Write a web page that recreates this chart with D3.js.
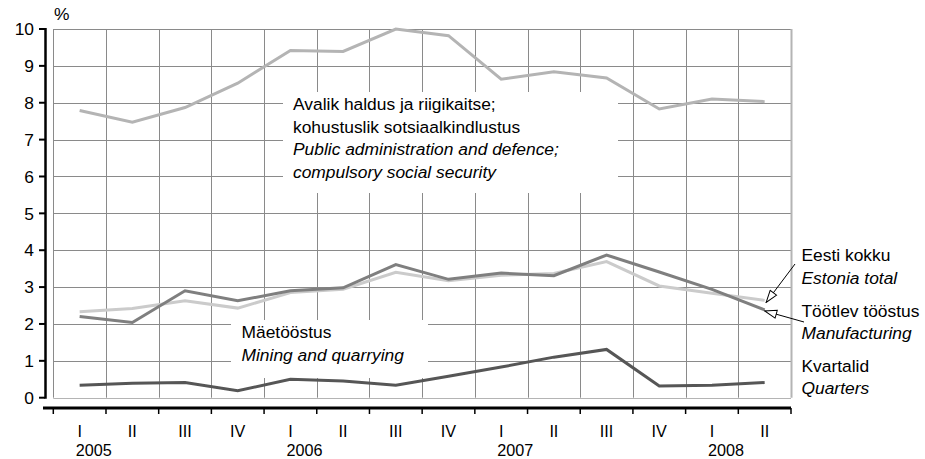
<!DOCTYPE html>
<html>
<head>
<meta charset="utf-8">
<script src="https://cdn.jsdelivr.net/npm/d3@7"></script>
<style>
  body { margin: 0; background: #fff; }
  text { font-family: "Liberation Sans", Arial, sans-serif; font-size: 17.4px; fill: #000; }
  text.ax { font-size: 16.2px; }
  .it { font-style: italic; }
</style>
</head>
<body>
<svg id="chart" width="925" height="459"></svg>
<script>
// quarters 2005 I .. 2008 II
const quarters = ['I', 'II', 'III', 'IV', 'I', 'II', 'III', 'IV', 'I', 'II', 'III', 'IV', 'I', 'II'];
const years = [{label: '2005', at: 0}, {label: '2006', at: 4}, {label: '2007', at: 8}, {label: '2008', at: 12}];
const yTicks = [0, 1, 2, 3, 4, 5, 6, 7, 8, 9, 10];

const publicAdmin   = [7.79, 7.47, 7.87, 8.53, 9.42, 9.39, 10.0, 9.82, 8.64, 8.84, 8.67, 7.83, 8.1, 8.03];
const estoniaTotal  = [2.33, 2.42, 2.63, 2.43, 2.85, 2.94, 3.4, 3.17, 3.32, 3.37, 3.69, 3.03, 2.83, 2.64];
const manufacturing = [2.2, 2.04, 2.9, 2.63, 2.9, 2.98, 3.61, 3.21, 3.38, 3.31, 3.87, 3.41, 2.94, 2.38];
const mining        = [0.34, 0.39, 0.41, 0.19, 0.5, 0.45, 0.34, 0.58, 0.83, 1.1, 1.31, 0.32, 0.34, 0.41];

const svg = d3.select('#chart');

const x = d3.scaleBand()
  .domain(d3.range(quarters.length))
  .range([53.3, 791])
  .paddingInner(0).paddingOuter(0);
const cx = i => x(i) + x.bandwidth() / 2;

const y = d3.scaleLinear()
  .domain([0, 10])
  .range([397.7, 29]);

// grid
const grid = svg.append('g');
grid.selectAll('.h')
  .data(yTicks)
  .enter().append('line')
  .attr('x1', x.range()[0]).attr('x2', x.range()[1])
  .attr('y1', d => Math.round(y(d)) + 0.5).attr('y2', d => Math.round(y(d)) + 0.5)
  .style('stroke', d => d === 0 ? '#b4b4b4' : '#8a8a8a')
  .style('stroke-width', 1);

const bounds = d3.range(quarters.length + 1).map(i => i < quarters.length ? x(i) : x.range()[1]);
grid.selectAll('.v')
  .data(bounds)
  .enter().append('line')
  .attr('x1', d => Math.round(d) + 0.5).attr('x2', d => Math.round(d) + 0.5)
  .attr('y1', y(10)).attr('y2', y(0))
  .style('stroke', (d, i) => i === quarters.length ? '#b4b4b4' : '#8a8a8a')
  .style('stroke-width', (d, i) => i === quarters.length ? 2 : 1);

// white label boxes over grid
const boxes = [
  {x: 283, y: 92, w: 335, h: 101},
  {x: 231, y: 320, w: 197, h: 58}
];
svg.append('g').selectAll('rect')
  .data(boxes)
  .enter().append('rect')
  .attr('x', d => d.x).attr('y', d => d.y)
  .attr('width', d => d.w).attr('height', d => d.h)
  .style('fill', '#fff');

// axes
svg.append('line')
  .attr('x1', 45.5).attr('x2', 45.5)
  .attr('y1', y(10) - 1).attr('y2', y(0) + 1)
  .style('stroke', '#000').style('stroke-width', 2.5);

const yAxis = svg.append('g');
yAxis.selectAll('line')
  .data(yTicks)
  .enter().append('line')
  .attr('x1', 39).attr('x2', 45)
  .attr('y1', d => y(d)).attr('y2', d => y(d))
  .style('stroke', '#000').style('stroke-width', 2);
yAxis.selectAll('text')
  .data(yTicks)
  .enter().append('text')
  .attr('x', 34)
  .attr('y', d => y(d))
  .attr('dy', '0.36em')
  .attr('text-anchor', 'end')
  .text(d => d);

svg.append('text').attr('x', 54).attr('y', 20).text('%');

const axisY = 408;
svg.append('line')
  .attr('x1', 43).attr('x2', 791)
  .attr('y1', axisY).attr('y2', axisY)
  .style('stroke', '#000').style('stroke-width', 3);
svg.append('g').selectAll('line')
  .data(bounds)
  .enter().append('line')
  .attr('x1', d => d).attr('x2', d => d)
  .attr('y1', axisY).attr('y2', axisY + 6)
  .style('stroke', '#000').style('stroke-width', 1.5);

svg.append('g').selectAll('text')
  .data(quarters)
  .enter().append('text')
  .classed('ax', true)
  .attr('x', (d, i) => cx(i))
  .attr('y', 437)
  .attr('text-anchor', 'middle')
  .text(d => d);

svg.append('g').selectAll('text')
  .data(years)
  .enter().append('text')
  .classed('ax', true)
  .attr('x', d => cx(d.at) - 4)
  .attr('y', 456)
  .text(d => d.label);

// lines
const line = d3.line()
  .x((d, i) => cx(i))
  .y(d => y(d));

const series = [
  {values: publicAdmin, color: '#b4b4b4'},
  {values: estoniaTotal, color: '#cbcbcb'},
  {values: manufacturing, color: '#7f7f7f'},
  {values: mining, color: '#565656'}
];
svg.append('g').selectAll('path')
  .data(series)
  .enter().append('path')
  .attr('d', d => line(d.values))
  .style('fill', 'none')
  .style('stroke', d => d.color)
  .style('stroke-width', 3)
  .style('stroke-linejoin', 'miter');

// annotations
const notes = [
  {x: 293, y: 110, lines: [
    ['Avalik haldus ja riigikaitse;', false],
    ['kohustuslik sotsiaalkindlustus', false],
    ['Public administration and defence;', true],
    ['compulsory social security', true]]},
  {x: 241.5, y: 338.3, lines: [['Mäetööstus', false], ['Mining and quarrying', true]]},
  {x: 801.5, y: 261, lines: [['Eesti kokku', false], ['Estonia total', true]]},
  {x: 801.5, y: 316.7, lines: [['Töötlev tööstus', false], ['Manufacturing', true]]},
  {x: 801.5, y: 371.5, lines: [['Kvartalid', false], ['Quarters', true]]}
];
const noteG = svg.append('g').selectAll('text')
  .data(notes)
  .enter().append('text')
  .attr('x', d => d.x).attr('y', d => d.y);
noteG.selectAll('tspan')
  .data(d => d.lines.map(l => ({t: l[0], it: l[1], x: d.x})))
  .enter().append('tspan')
  .attr('x', d => d.x)
  .attr('dy', (d, i) => i === 0 ? 0 : 22.6)
  .classed('it', d => d.it)
  .text(d => d.t);

// arrows
const last = quarters.length - 1;
const defs = svg.append('defs');
defs.append('marker')
  .attr('id', 'open')
  .attr('viewBox', '0 0 14 10')
  .attr('refX', 13).attr('refY', 5)
  .attr('markerWidth', 14).attr('markerHeight', 10)
  .attr('markerUnits', 'userSpaceOnUse')
  .attr('orient', 'auto')
  .append('path')
  .attr('d', 'M1,1 L13,5 L1,9 Z')
  .style('fill', '#fff').style('stroke', '#000').style('stroke-width', 1);

const arrows = [
  {x1: 795, y1: 264, x2: cx(last) + 1.5, y2: y(estoniaTotal[last]) + 2},
  {x1: 804, y1: 322, x2: cx(last), y2: y(manufacturing[last]) + 1}
];
svg.append('g').selectAll('line')
  .data(arrows)
  .enter().append('line')
  .attr('x1', d => d.x1).attr('y1', d => d.y1)
  .attr('x2', d => d.x2).attr('y2', d => d.y2)
  .style('stroke', '#000').style('stroke-width', 1)
  .attr('marker-end', 'url(#open)');
</script>
</body>
</html>
